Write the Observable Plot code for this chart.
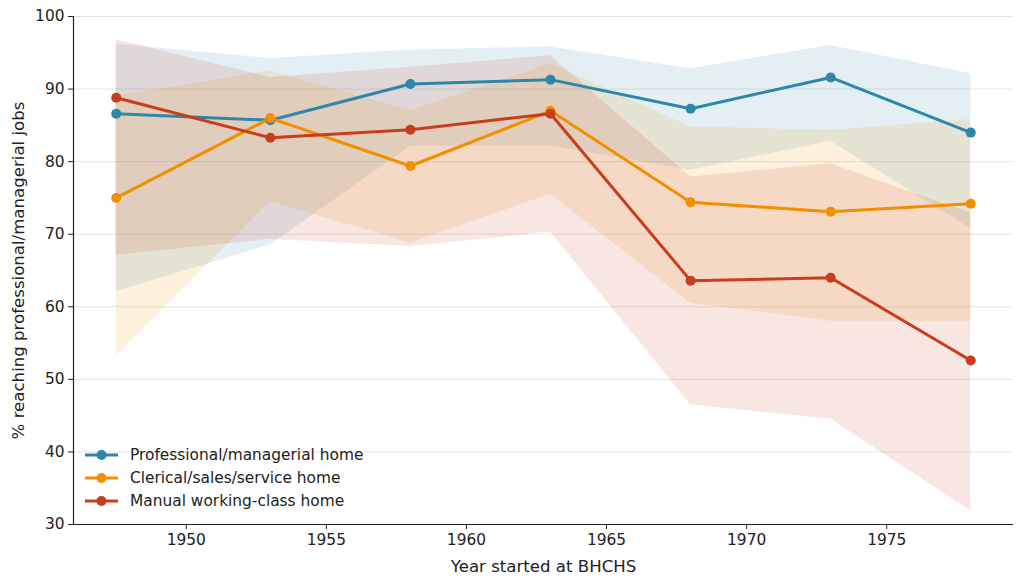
<!DOCTYPE html>
<html>
<head>
<meta charset="utf-8">
<script src="https://cdn.jsdelivr.net/npm/d3@7"></script>
<script src="https://cdn.jsdelivr.net/npm/@observablehq/plot@0.6"></script>
<style>
  html, body { margin: 0; padding: 0; background: #fff; }
  #wrap { position: relative; width: 1024px; height: 584px; font-family: "DejaVu Sans", sans-serif; }
  #legend { position: absolute; left: 84px; top: 443px; font-size: 15.4px; color: #222; }
  .row { display: flex; align-items: center; height: 23.3px; }
  .row svg { margin-right: 11px; }
</style>
</head>
<body>
<div id="wrap"></div>
<script>
const years = [1947.5, 1953, 1958, 1963, 1968, 1973, 1978];
const seriesNames = ["Professional/managerial home", "Clerical/sales/service home", "Manual working-class home"];
const colors = ["#2E86AB", "#F18F01", "#C73E1D"];

const profValues = [86.6, 85.7, 90.7, 91.3, 87.3, 91.6, 84.0];
const profLower  = [62.1, 68.5, 82.1, 82.2, 78.8, 82.8, 70.8];
const profUpper  = [96.2, 94.2, 95.4, 95.8, 92.8, 96.0, 92.1];

const clerValues = [75.0, 86.0, 79.4, 87.0, 74.4, 73.1, 74.2];
const clerLower  = [53.2, 74.5, 68.8, 75.5, 60.5, 58.0, 58.0];
const clerUpper  = [89.0, 92.5, 87.0, 93.5, 84.8, 84.3, 85.8];

const manValues  = [88.8, 83.3, 84.4, 86.6, 63.6, 64.0, 52.6];
const manLower   = [67.1, 69.3, 68.3, 70.3, 46.5, 44.5, 31.9];
const manUpper   = [96.8, 91.6, 93.0, 94.6, 77.9, 79.7, 72.9];

const xTicks = [1950, 1955, 1960, 1965, 1970, 1975];
const yTicks = [30, 40, 50, 60, 70, 80, 90, 100];

const groups = [
  [profValues, profLower, profUpper],
  [clerValues, clerLower, clerUpper],
  [manValues, manLower, manUpper]
];
const data = [];
groups.forEach((g, si) => {
  years.forEach((yr, i) => {
    data.push({series: seriesNames[si], year: yr, value: g[0][i], lo: g[1][i], hi: g[2][i]});
  });
});

const span = years[years.length - 1] - years[0];
const xDomain = [years[0] - 0.05 * span, years[years.length - 1] + 0.05 * span];
const yDomain = [30, 100];

const chart = Plot.plot({
  width: 1024,
  height: 584,
  marginLeft: 73,
  marginRight: 11,
  marginTop: 16,
  marginBottom: 60,
  style: {fontFamily: "DejaVu Sans, sans-serif", fontSize: "15.4px", color: "#222", background: "#fff", overflow: "visible"},
  x: {domain: xDomain},
  y: {domain: yDomain},
  color: {domain: seriesNames, range: colors},
  marks: [
    Plot.gridY(yTicks, {stroke: "#d8d8d0", strokeOpacity: 0.7, strokeWidth: 1}),
    Plot.areaY(data, {x: "year", y1: "lo", y2: "hi", z: "series", fill: "series", fillOpacity: 0.13, curve: "linear"}),
    Plot.lineY(data, {x: "year", y: "value", z: "series", stroke: "series", strokeWidth: 3, curve: "linear"}),
    Plot.dot(data, {x: "year", y: "value", fill: "series", r: 5}),
    Plot.ruleX([xDomain[0]], {stroke: "#222", strokeWidth: 1.2}),
    Plot.ruleY([yDomain[0]], {stroke: "#222", strokeWidth: 1.2}),
    Plot.axisX(xTicks, {tickSize: 5, tickPadding: 5, tickFormat: d => String(d), fontSize: 15.4, fill: "#222", label: null}),
    Plot.axisY(yTicks, {tickSize: 5, tickPadding: 4, fontSize: 15.4, fill: "#222", label: null}),
    Plot.text(["Year started at BHCHS"], {frameAnchor: "bottom", dy: 47, fontSize: 16.6, fill: "#222"}),
    Plot.text(["% reaching professional/managerial jobs"], {frameAnchor: "left", textAnchor: "middle", dx: -55, rotate: -90, fontSize: 16.6, fill: "#222"})
  ]
});

const wrap = document.getElementById("wrap");
wrap.appendChild(chart);

const legend = document.createElement("div");
legend.id = "legend";
seriesNames.forEach((name, i) => {
  const row = document.createElement("div");
  row.className = "row";
  row.innerHTML = `<svg width="35" height="12"><line x1="1" y1="6" x2="34" y2="6" stroke="${colors[i]}" stroke-width="3"/><circle cx="17.5" cy="6" r="5" fill="${colors[i]}"/></svg><span>${name}</span>`;
  legend.appendChild(row);
});
wrap.appendChild(legend);
</script>
</body>
</html>
